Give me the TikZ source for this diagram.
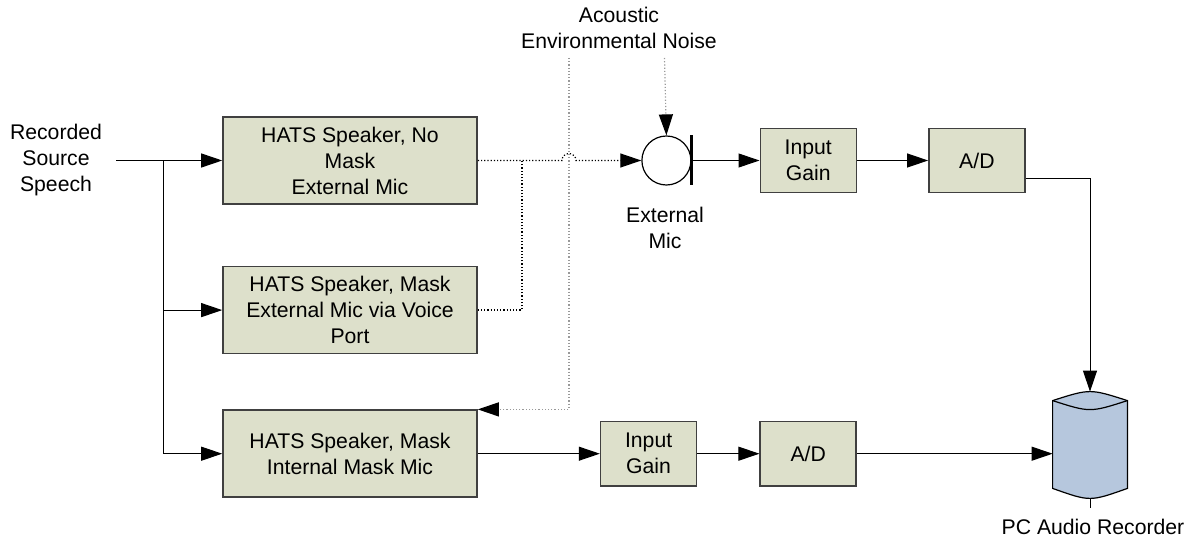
\documentclass[tikz,border=0pt]{standalone}
\usepackage{fontspec}
\setmainfont{Liberation Sans}
\usepackage{tikz}
\usetikzlibrary{shapes.geometric, arrows.meta, positioning, calc}

\definecolor{boxfill}{RGB}{221,224,203}
\definecolor{drumfill}{RGB}{182,199,221}
\definecolor{rimgray}{RGB}{64,64,64}

\begin{document}
\begin{tikzpicture}[x=0.5pt, y=-0.5pt,
    hats/.style={rectangle, draw=rimgray, line width=0.8pt, fill=boxfill,
        minimum width=127pt, minimum height=43.5pt, inner sep=0pt,
        font=\fontsize{10.6}{13}\selectfont, align=center},
    blk/.style={rectangle, draw=rimgray, line width=0.8pt, fill=boxfill,
        minimum width=48pt, minimum height=32pt, inner sep=0pt,
        font=\fontsize{10.6}{13}\selectfont, align=center},
    lbl/.style={font=\fontsize{10.6}{13}\selectfont, align=center, inner sep=0pt},
    arr/.style={-{Triangle[length=10.5pt, width=7pt]}, line width=0.5pt, black},
    dots/.style={line width=0.6pt, densely dotted, black},
    noise/.style={line width=0.6pt, densely dotted, black!40,
        arrows={-{Triangle[black, length=10.5pt, width=7pt]}}},
    drum/.style={draw=black, line width=0.6pt, fill=drumfill},
]
\useasboundingbox (0,0) rectangle (1188,539);

% Speaker boxes
\node[hats] (H1) at (350,160.5) {HATS Speaker, No\\Mask\\External Mic};
\node[hats, below=30.5pt of H1] (H2) {HATS Speaker, Mask\\External Mic via Voice\\Port};
\node[hats, below=27.5pt of H2] (H3) {HATS Speaker, Mask\\Internal Mask Mic};

% Source
\node[lbl, inner xsep=7pt] (src) at (56,160.5) {Recorded\\Source\\Speech};
\coordinate (br) at (163,160.5);

% External mic chain
\node[circle, draw=black, line width=0.6pt, minimum size=24.5pt, inner sep=0pt,
    right=81.75pt of H1] (mic) {};
\node[blk, right=34pt of mic] (G1) {Input\\Gain};
\node[blk, right=35.5pt of G1] (AD1) {A/D};

% Internal mic chain
\node[blk, right=61pt of H3] (G2) {Input\\Gain};
\node[blk, right=31pt of G2] (AD2) {A/D};

% Recorder
\node[inner sep=0pt, minimum width=37pt, minimum height=53pt] (rec) at (1090,445) {};

% Labels
\node[lbl] (noiselbl) at (619,28) {Acoustic\\Environmental Noise};
\node[lbl] (miclbl) at (665,228) {External\\Mic};
\node[lbl] (pclbl) at (1093,527) {PC Audio Recorder};

\coordinate (nz) at (664.5,58);
\coordinate (amb) at (569,58);
\coordinate (j1) at (522,160.5);

% Source feeds
\draw[arr] (src.east) -- (H1.west);
\draw[arr] (br) |- (H2.west);
\draw[arr] (br) |- (H3.west);

% Acoustic paths
\draw[arr, dots] (H1.east) -- (562,160.5) arc[start angle=180, end angle=0, radius=3.5pt] -- (mic.west);
\draw[dots] (H2.east) -| (j1);
\draw[noise] (amb) |- (H3.north east);
\draw[noise] (nz) -- (mic.north);

% Mic diaphragm
\draw[line width=1.5pt] ([yshift=12.5pt]mic.east) -- ([yshift=-12.5pt]mic.east);

% Signal chains
\draw[arr] (mic.east) -- (G1.west);
\draw[arr] (G1.east) -- (AD1.west);
\draw[arr] ([yshift=-9pt]AD1.east) -| (rec.north);
\draw[arr] (H3.east) -- (H3.east -| G2.west);
\draw[arr] (G2.east) -- (AD2.west);
\draw[arr] (AD2.east) -- (AD2.east -| rec.west);

% Cylinder
\draw[drum] ([yshift=-4.5pt]rec.north west) .. controls ([yshift=1.5pt]rec.north) .. ([yshift=-4.5pt]rec.north east)
    -- ([yshift=5pt]rec.south east) .. controls ([yshift=-1.67pt]rec.south) .. ([yshift=5pt]rec.south west) -- cycle;
\draw[line width=0.6pt] ([yshift=-4.5pt]rec.north west) .. controls ([yshift=-10.5pt]rec.north) .. ([yshift=-4.5pt]rec.north east);
\draw[line width=0.5pt] (rec.south) -- ++(0,10);
\end{tikzpicture}
\end{document}
